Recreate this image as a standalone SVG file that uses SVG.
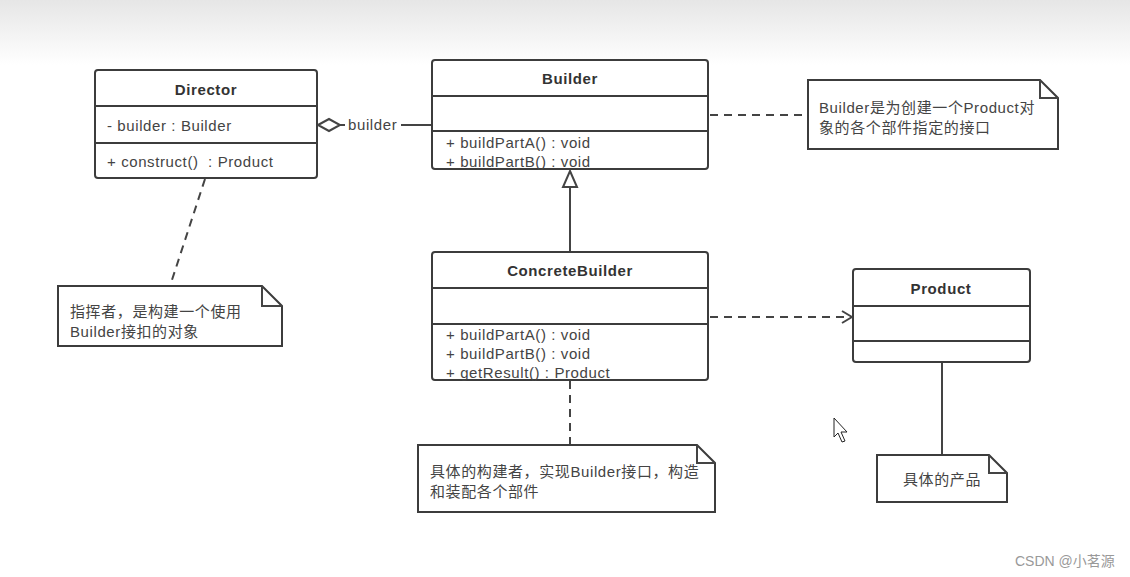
<svg xmlns="http://www.w3.org/2000/svg" width="1130" height="577" viewBox="0 0 1130 577">
<defs>
<linearGradient id="topbg" x1="0" y1="0" x2="0" y2="1">
<stop offset="0" stop-color="#e6e6e6"/>
<stop offset="1" stop-color="#ffffff"/>
</linearGradient>
<marker id="open" markerWidth="12" markerHeight="14" refX="11" refY="7" orient="auto" markerUnits="userSpaceOnUse">
<path d="M1,1 L11,7 L1,13" fill="none" stroke="#444" stroke-width="2"/>
</marker>
</defs>
<style>
.box{fill:#fff;stroke:#3c3c3c;stroke-width:2}
.div{stroke:#3c3c3c;stroke-width:2}
.note{fill:#fff;stroke:#3c3c3c;stroke-width:2}
text{font-family:'Liberation Sans','Noto Sans CJK SC',sans-serif;fill:#444;font-size:15px;letter-spacing:0.6px}
.title{font-weight:bold;text-anchor:middle;fill:#333}
.edge{fill:none;stroke:#444;stroke-width:2}
.dash{stroke-dasharray:8 6}
</style>
<rect x="0" y="0" width="1130" height="577" fill="#fff"/>
<rect x="0" y="0" width="1130" height="65" fill="url(#topbg)"/>

<g id="connectors">
<path class="edge" d="M340,125 L432,125"/>
<path d="M318,125 L329,119 L340,125 L329,131 Z" fill="#fff" stroke="#444" stroke-width="2"/>
<rect x="345" y="116" width="56" height="18" fill="#fff"/>
<text x="348" y="130">builder</text>
<path class="edge dash" d="M710,115 L808,115"/>
<path class="edge dash" d="M205,179 L170,286"/>
<path class="edge" d="M570,186 L570,252"/>
<path d="M570,171 L577,187 L563,187 Z" fill="#fff" stroke="#444" stroke-width="2"/>
<path class="edge dash" d="M710,317 L852,317" marker-end="url(#open)"/>
<path class="edge" d="M942,362 L942,455"/>
<path class="edge dash" d="M570,381 L570,445"/>
</g>

<g id="director">
<rect class="box" x="95" y="70" width="222" height="108" rx="3"/>
<line class="div" x1="95" y1="106" x2="317" y2="106"/>
<line class="div" x1="95" y1="143" x2="317" y2="143"/>
<text class="title" x="206" y="95">Director</text>
<text x="107" y="131">- builder : Builder</text>
<text x="107" y="167" xml:space="preserve" style="white-space:pre">+ construct()  : Product</text>
</g>

<g id="builder">
<rect class="box" x="432" y="60" width="276" height="109" rx="3"/>
<line class="div" x1="432" y1="96" x2="708" y2="96"/>
<line class="div" x1="432" y1="131" x2="708" y2="131"/>
<text class="title" x="570" y="84">Builder</text>
<text x="446" y="148">+ buildPartA() : void</text>
<text x="446" y="167">+ buildPartB() : void</text>
</g>

<g id="builder-note">
<path class="note" d="M808,80 L1040,80 L1058,98 L1058,149 L808,149 Z"/>
<path class="edge" d="M1040,80 L1040,98 L1058,98"/>
<text x="819" y="113">Builder是为创建一个Product对</text>
<text x="819" y="133">象的各个部件指定的接口</text>
</g>

<g id="director-note">
<path class="note" d="M58,286 L262,286 L282,306 L282,346 L58,346 Z"/>
<path class="edge" d="M262,286 L262,306 L282,306"/>
<text x="70" y="317">指挥者，是构建一个使用</text>
<text x="70" y="337">Builder接扣的对象</text>
</g>

<g id="concretebuilder">
<rect class="box" x="432" y="252" width="276" height="128" rx="3"/>
<line class="div" x1="432" y1="288" x2="708" y2="288"/>
<line class="div" x1="432" y1="324" x2="708" y2="324"/>
<text class="title" x="570" y="276">ConcreteBuilder</text>
<text x="446" y="340">+ buildPartA() : void</text>
<text x="446" y="359">+ buildPartB() : void</text>
<text x="446" y="378">+ getResult() : Product</text>
</g>

<g id="product">
<rect class="box" x="853" y="269" width="177" height="93" rx="3"/>
<line class="div" x1="853" y1="306" x2="1030" y2="306"/>
<line class="div" x1="853" y1="341" x2="1030" y2="341"/>
<text class="title" x="941" y="294">Product</text>
</g>

<g id="concretebuilder-note">
<path class="note" d="M418,445 L697,445 L715,463 L715,512 L418,512 Z"/>
<path class="edge" d="M697,445 L697,463 L715,463"/>
<text x="430" y="477">具体的构建者，实现Builder接口，构造</text>
<text x="430" y="497">和装配各个部件</text>
</g>

<g id="product-note">
<path class="note" d="M877,455 L989,455 L1007,473 L1007,502 L877,502 Z"/>
<path class="edge" d="M989,455 L989,473 L1007,473"/>
<text x="903" y="485">具体的产品</text>
</g>

<path d="M834,418 L834,437 L838,433 L842,442 L845,441 L841,432 L847,432 Z" fill="#fff" stroke="#222" stroke-width="1"/>
<text x="1015" y="566" style="font-size:14px;fill:#999;letter-spacing:0">CSDN @小茗源</text>
</svg>
